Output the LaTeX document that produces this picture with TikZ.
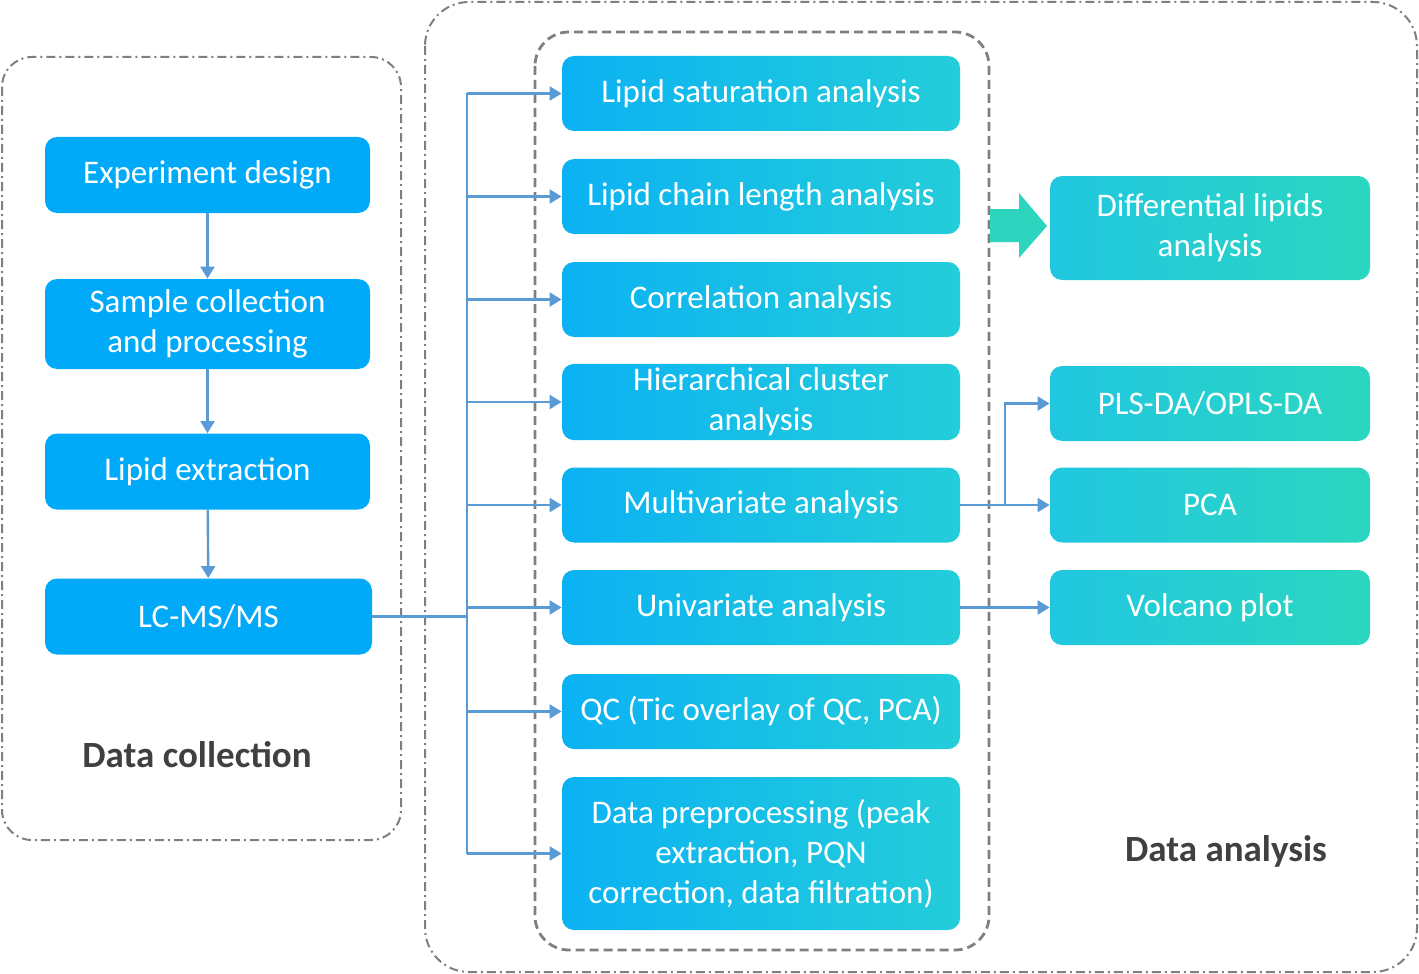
\documentclass[tikz,border=0pt]{standalone}
\usepackage{fontspec}
\setmainfont{Carlito}
\usetikzlibrary{arrows.meta,positioning}
\definecolor{dcblue}{HTML}{00AAF8}
\definecolor{midleft}{HTML}{0BB2F3}
\definecolor{midright}{HTML}{24CDDA}
\definecolor{resleft}{HTML}{21C7E1}
\definecolor{resright}{HTML}{2BD6BF}
\definecolor{arblue}{HTML}{5B9BD5}
\definecolor{framegray}{HTML}{7F7F7F}
\definecolor{bigteal}{HTML}{2DD5BE}
\definecolor{titlegray}{HTML}{404040}
\tikzset{
  stepbox/.style={rectangle, rounded corners=6pt, fill=dcblue, text=white,
                  align=center, font=\fontsize{16.5}{20}\selectfont,
                  minimum width=162.5pt, minimum height=38pt, inner sep=2pt},
  midbox/.style={rectangle, rounded corners=6pt, left color=midleft, right color=midright,
                 text=white, align=center, font=\fontsize{16.5}{20}\selectfont,
                 minimum width=199pt, minimum height=37.5pt, inner sep=2pt},
  resbox/.style={rectangle, rounded corners=6pt, left color=resleft, right color=resright,
                 text=white, align=center, font=\fontsize{16.5}{20}\selectfont,
                 minimum width=160pt, minimum height=37.5pt, inner sep=2pt},
  title/.style={font=\fontsize{18.5}{22}\selectfont\bfseries, text=titlegray},
  ar/.style={-{Triangle[length=6pt,width=7pt]}, draw=arblue, line width=1.2pt},
  ln/.style={draw=arblue, line width=1.2pt},
  framedd/.style={draw=framegray, line width=1pt,
                  dash pattern=on 4.5pt off 2pt on 1pt off 2pt},
  framed/.style={draw=framegray, line width=1.4pt, dash pattern=on 4.5pt off 2.5pt},
}
\begin{document}
\begin{tikzpicture}[x=0.5pt,y=-0.5pt]
\useasboundingbox (0,0) rectangle (1419,974);
% --- frames
\draw[framedd,rounded corners=15pt] (2,57) rectangle (401,840);
\draw[framedd,rounded corners=22pt] (425,2) rectangle (1417,972);
\draw[framed,rounded corners=17pt] (535,32) rectangle (989,950);

% --- data collection
\node[stepbox] (e1) at (207.5,175) {Experiment design};
\node[stepbox,minimum height=45pt] (e2) at (207.5,324) {Sample collection\\and processing};
\node[stepbox] (e3) at (207.5,471.5) {Lipid extraction};
\node[stepbox,minimum width=163.5pt] (e4) at (208.5,616.5) {LC-MS/MS};
\draw[ar] (e1)--(e2); \draw[ar] (e2)--(e3); \draw[ar] (e3)--(e4);
\node[title] (tc) at (197,755) {Data collection};

% --- analysis steps
\node[midbox] (m1) at (761,93.5) {Lipid saturation analysis};
\node[midbox] (m2) at (761,196.5) {Lipid chain length analysis};
\node[midbox] (m3) at (761,299.5) {Correlation analysis};
\node[midbox] (m4) at (761,402) {Hierarchical cluster\\analysis};
\node[midbox] (m5) at (761,505) {Multivariate analysis};
\node[midbox] (m6) at (761,607.5) {Univariate analysis};
\node[midbox] (m7) at (761,711.5) {QC (Tic overlay of QC, PCA)};
\node[midbox,minimum height=76.5pt] (m8) at (761,853.5)
   {Data preprocessing (peak\\extraction, PQN\\correction, data filtration)};
\coordinate (ttop) at (467,93.5);
\coordinate (tbot) at (467,853.5);
\draw[ln] (ttop) -- (tbot);
\draw[ln] (e4.east) -- (e4.east -| ttop);
\foreach \m in {m1,m2,m3,m4,m5,m6,m7,m8}
  \draw[ar] (\m.west -| ttop) -- (\m.west);

% --- results
\node[resbox,minimum height=52pt] (r1) at (1210,228) {Differential lipids\\analysis};
\node[resbox] (r2) at (1210,403.5) {PLS-DA/OPLS-DA};
\node[resbox] (r3) at (1210,505) {PCA};
\node[resbox] (r4) at (1210,607.5) {Volcano plot};
\coordinate (sp) at (1005,505);
\draw[ar] (m5.east) -- (r3.west);
\draw[ar] (m5.east -| sp) |- (r2.west);
\draw[ar] (m6.east) -- (r4.west);
\fill[bigteal] (990,209) -- (1019,209) -- (1019,193) -- (1047,226) -- (1019,258)
   -- (1019,242) -- (990,242) -- cycle;
\node[title] (ta) at (1226,851) {Data analysis};
\end{tikzpicture}
\end{document}
